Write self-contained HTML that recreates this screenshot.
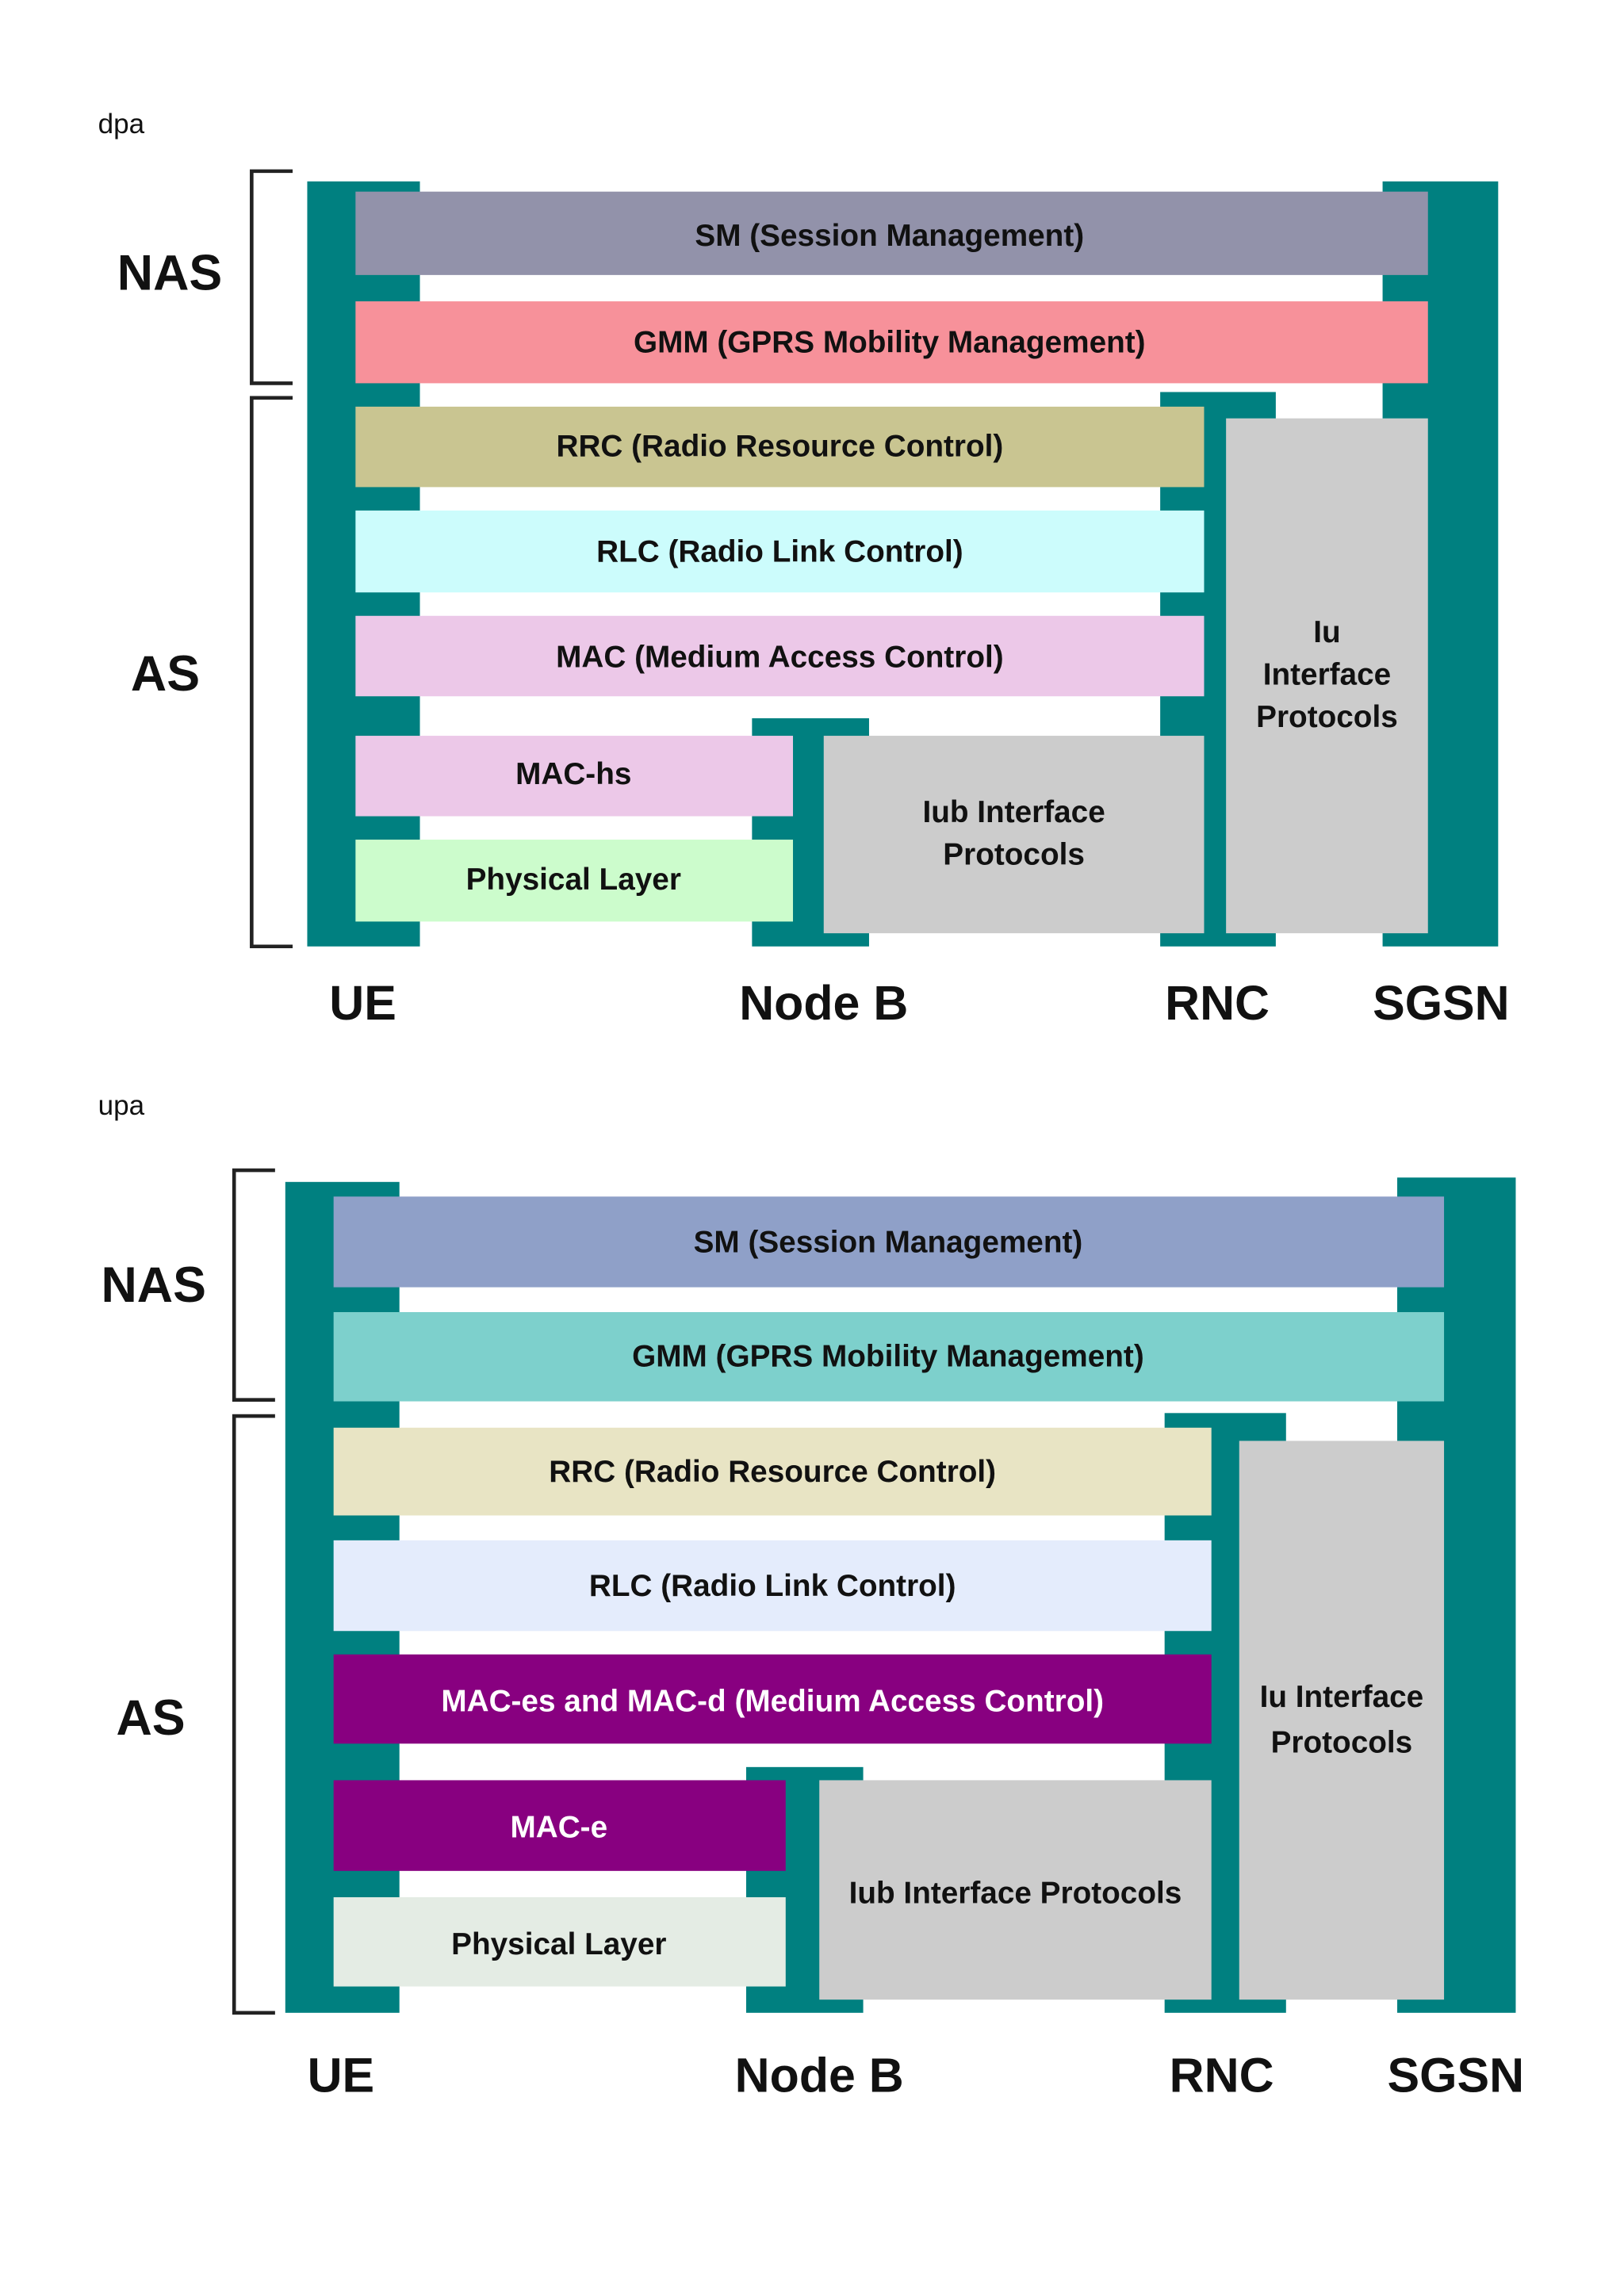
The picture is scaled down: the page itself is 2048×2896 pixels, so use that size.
<!DOCTYPE html>
<html><head><meta charset="utf-8"><style>
html,body{margin:0;padding:0;background:#fff}
svg{display:block}
.b{font-family:"Liberation Sans",Arial,sans-serif;font-weight:bold;fill:#111}
.s{font-family:"Liberation Sans",Arial,sans-serif;fill:#111}
</style></head><body>
<svg width="2048" height="2896" viewBox="0 0 1110 1569.6" preserveAspectRatio="none" xmlns="http://www.w3.org/2000/svg">
<rect width="1110" height="1570" fill="#fff"/>
<!-- DPA -->
<text class="s" x="67" y="91" font-size="19">dpa</text>
<path d="M200 117 H172 V262 H200" fill="none" stroke="#222" stroke-width="2.5"/>
<path d="M200 272 H172 V647 H200" fill="none" stroke="#222" stroke-width="2.5"/>
<text class="b" x="116" y="198" font-size="34" text-anchor="middle">NAS</text>
<text class="b" x="113" y="472" font-size="34" text-anchor="middle">AS</text>
<g fill="#008080">
<rect x="210" y="124" width="77" height="523"/>
<rect x="945" y="124" width="79" height="523"/>
<rect x="514" y="491" width="80" height="156"/>
<rect x="793" y="268" width="79" height="379"/>
</g>
<rect x="243" y="131" width="733" height="57" fill="#9292aa"/>
<rect x="243" y="206" width="733" height="56" fill="#f7919a"/>
<rect x="243" y="278" width="580" height="55" fill="#c9c591"/>
<rect x="243" y="349" width="580" height="56" fill="#ccfcfc"/>
<rect x="243" y="421" width="580" height="55" fill="#ecc8e8"/>
<rect x="243" y="503" width="299" height="55" fill="#ecc8e8"/>
<rect x="243" y="574" width="299" height="56" fill="#ccfccc"/>
<rect x="563" y="503" width="260" height="135" fill="#cccccc"/>
<rect x="838" y="286" width="138" height="352" fill="#cccccc"/>
<g class="b" font-size="21" text-anchor="middle">
<text x="608" y="168">SM (Session Management)</text>
<text x="608" y="241">GMM (GPRS Mobility Management)</text>
<text x="533" y="312">RRC (Radio Resource Control)</text>
<text x="533" y="384">RLC (Radio Link Control)</text>
<text x="533" y="456">MAC (Medium Access Control)</text>
<text x="392" y="536">MAC-hs</text>
<text x="392" y="608">Physical Layer</text>
<text x="693" y="562">Iub Interface</text>
<text x="693" y="591">Protocols</text>
<text x="907" y="439">Iu</text>
<text x="907" y="468">Interface</text>
<text x="907" y="497">Protocols</text>
</g>
<g class="b" font-size="33" text-anchor="middle">
<text x="248" y="697">UE</text>
<text x="563" y="697">Node B</text>
<text x="832" y="697">RNC</text>
<text x="985" y="697">SGSN</text>
</g>
<!-- UPA -->
<text class="s" x="67" y="762" font-size="19">upa</text>
<path d="M188 800 H160 V957 H188" fill="none" stroke="#222" stroke-width="2.5"/>
<path d="M188 968 H160 V1376 H188" fill="none" stroke="#222" stroke-width="2.5"/>
<text class="b" x="105" y="890" font-size="34" text-anchor="middle">NAS</text>
<text class="b" x="103" y="1186" font-size="34" text-anchor="middle">AS</text>
<g fill="#008080">
<rect x="195" y="808" width="78" height="568"/>
<rect x="955" y="805" width="81" height="571"/>
<rect x="510" y="1208" width="80" height="168"/>
<rect x="796" y="966" width="83" height="410"/>
</g>
<rect x="228" y="818" width="759" height="62" fill="#8fa0c8"/>
<rect x="228" y="897" width="759" height="61" fill="#7dd0cc"/>
<rect x="228" y="976" width="600" height="60" fill="#e8e4c4"/>
<rect x="228" y="1053" width="600" height="62" fill="#e4ecfc"/>
<rect x="228" y="1131" width="600" height="61" fill="#880080"/>
<rect x="228" y="1217" width="309" height="62" fill="#880080"/>
<rect x="228" y="1297" width="309" height="61" fill="#e4ece4"/>
<rect x="560" y="1217" width="268" height="150" fill="#cccccc"/>
<rect x="847" y="985" width="140" height="382" fill="#cccccc"/>
<g class="b" font-size="21" text-anchor="middle">
<text x="607" y="856">SM (Session Management)</text>
<text x="607" y="934">GMM (GPRS Mobility Management)</text>
<text x="528" y="1013">RRC (Radio Resource Control)</text>
<text x="528" y="1091">RLC (Radio Link Control)</text>
<text x="528" y="1170" fill="#fff">MAC-es and MAC-d (Medium Access Control)</text>
<text x="382" y="1256" fill="#fff">MAC-e</text>
<text x="382" y="1336">Physical Layer</text>
<text x="694" y="1301">Iub Interface Protocols</text>
<text x="917" y="1167">Iu Interface</text>
<text x="917" y="1198">Protocols</text>
</g>
<g class="b" font-size="33" text-anchor="middle">
<text x="233" y="1430">UE</text>
<text x="560" y="1430">Node B</text>
<text x="835" y="1430">RNC</text>
<text x="995" y="1430">SGSN</text>
</g>
</svg>
</body></html>
